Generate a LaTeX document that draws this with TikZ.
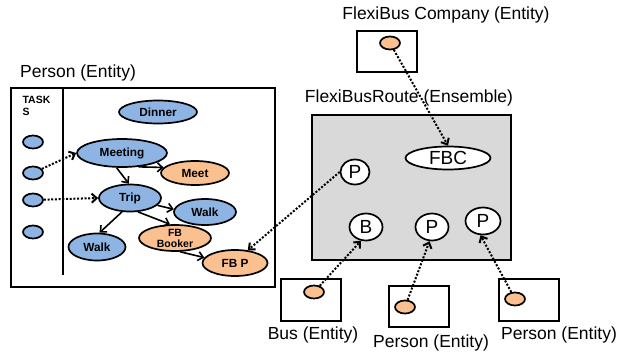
\documentclass[tikz,border=0pt]{standalone}
\usepackage{fontspec}
\setmainfont{Liberation Sans}
\usetikzlibrary{arrows.meta, shapes.geometric}

\definecolor{taskblue}{HTML}{8EB4E3}
\definecolor{subpeach}{HTML}{FAC08F}
\definecolor{ensgray}{HTML}{D9D9D9}

\tikzset{
    task/.style={ellipse, draw, line width=1.7pt, fill=taskblue, inner sep=0pt,
                 font=\fontsize{11.8}{12}\selectfont\bfseries, align=center},
    sub/.style={task, fill=subpeach},
    slot/.style={ellipse, draw, line width=1.7pt, fill=taskblue, minimum width=20pt, minimum height=13pt, inner sep=0pt},
    agent/.style={slot, fill=subpeach},
    role/.style={ellipse, draw, line width=1.7pt, fill=white, inner sep=0pt,
                 font=\fontsize{19}{20}\selectfont},
    entity/.style={draw, line width=1.9pt},
    caption/.style={font=\fontsize{17.5}{18}\selectfont},
    link/.style={line width=1.6pt, -{Straight Barb[length=5pt, width=9pt]}},
    bind/.style={link, line width=2pt, dash pattern=on 2pt off 1.7pt},
}

\begin{document}
\begin{tikzpicture}[x=1pt, y=-1pt]
        \useasboundingbox (0,0) rectangle (628,353);

        % person with its task tree
        \node[caption] at (78,73) (lperson) {Person (Entity)};
        \draw[entity] (11,88) rectangle (275,287);
        \draw[line width=1.9pt] (63,88) -- (63,275);
        \node[font=\fontsize{10.5}{12}\selectfont\bfseries, align=left, anchor=north west] at (19,93) (ltasks) {TASK\\S};

        \node[slot] at (33,142) (s1) {};
        \node[slot] at (33,173) (s2) {};
        \node[slot] at (33,200) (s3) {};
        \node[slot] at (33,232) (s4) {};

        \node[task, minimum width=78pt, minimum height=23pt] at (158,112) (dinner) {Dinner};
        \node[task, minimum width=90pt, minimum height=28pt] at (122,153) (meeting) {Meeting};
        \node[sub, minimum width=68pt, minimum height=24pt] at (195,173) (meet) {Meet};
        \node[task, minimum width=62pt, minimum height=27pt] at (130,198) (trip) {Trip};
        \node[task, minimum width=62pt, minimum height=26pt] at (205,212) (walkr) {Walk};
        \node[task, minimum width=57pt, minimum height=27pt] at (97,247) (walkl) {Walk};
        \node[sub, minimum width=72pt, minimum height=26pt, font=\fontsize{10.5}{11}\selectfont\bfseries] at (175,238) (booker) {FB\\Booker};
        \node[sub, minimum width=65pt, minimum height=26pt] at (235,263) (fbp) {FB P};

        \draw[link] (meeting.250) -- (trip.95);
        \draw[link] (meeting.-40) -- (meet.170);
        \draw[link] (trip.-15) -- (walkr.175);
        \draw[link] (trip.240) -- (walkl.80);
        \draw[link] (trip.-60) -- (booker.110);
        \draw[link] (booker.-70) -- (fbp.170);
        \draw[bind] (s2) -- (meeting.west);
        \draw[bind] (s3) -- (trip.west);

        % ensemble and its roles
        \node[caption] at (409,98) (ensname) {FlexiBusRoute (Ensemble)};
        \draw[entity, fill=ensgray] (312,115) rectangle (511,260);
        \node[role, minimum width=85pt, minimum height=23pt] at (448,158) (fbc) {FBC};
        \node[role, minimum width=29pt, minimum height=25pt] at (355,172) (pt) {P};
        \node[role, minimum width=33pt, minimum height=27pt] at (366,227) (rb) {B};
        \node[role, minimum width=33pt, minimum height=27pt] at (432,227) (pm) {P};
        \node[role, minimum width=35pt, minimum height=27pt] at (483,221) (pr) {P};

        % entities bound to the roles
        \node[caption] at (446,15) (coname) {FlexiBus Company (Entity)};
        \draw[entity] (357,31) rectangle (417,72);
        \node[agent] at (390,43) (co) {};

        \draw[entity] (281,279) rectangle (341,321);
        \node[agent] at (314,292) (bus) {};
        \node[caption] at (313,335) (busname) {Bus (Entity)};

        \draw[entity] (389,286) rectangle (449,327);
        \node[agent] at (405,307) (pmid) {};
        \node[caption] at (431,343) (pmidname) {Person (Entity)};

        \draw[entity] (499,279) rectangle (559,321);
        \node[agent] at (515,299) (pright) {};
        \node[caption] at (559,335) (prightname) {Person (Entity)};

        \draw[bind] (co) -- (fbc.north);
        \draw[bind] (bus) -- (rb.250);
        \draw[bind] (pmid) -- (pm.260);
        \draw[bind] (pright) -- (pr.-100);
        \draw[bind] (pt.west) -- (fbp.45);
    \end{tikzpicture}
\end{document}
